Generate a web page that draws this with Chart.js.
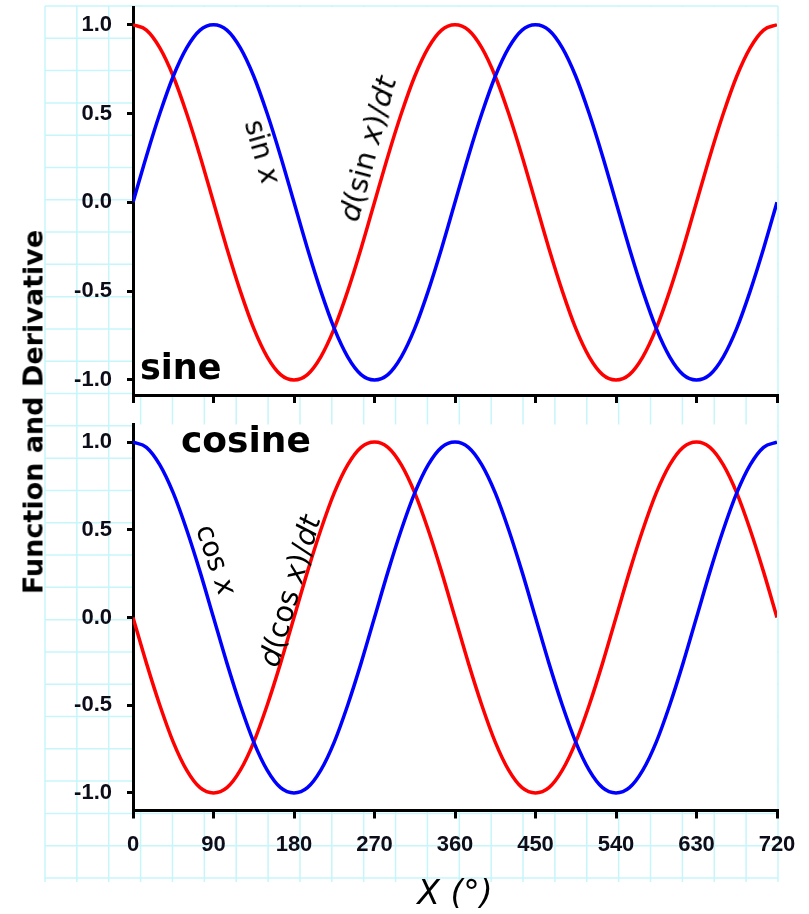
<!DOCTYPE html>
<html><head><meta charset="utf-8">
<script src="https://cdn.jsdelivr.net/npm/chart.js@4.4.0/dist/chart.umd.min.js"></script>
<style>
html,body{margin:0;padding:0;background:#fff;}
#wrap{position:relative;width:809px;height:914px;overflow:hidden;font-family:"DejaVu Sans";}
#paper{position:absolute;left:0;top:0;}
.box{position:absolute;left:0;}
.lbl{position:absolute;white-space:nowrap;line-height:1;color:#000;font-family:"DejaVu Sans";}
.rot{transform-origin:50% 50%;}
</style></head><body>
<div id="wrap">
<canvas id="paper" width="809" height="914"></canvas>
<div class="box" style="top:-30px;width:809px;height:460px"><canvas id="c1" width="809" height="460"></canvas></div>
<div class="box" style="top:390px;width:809px;height:524px"><canvas id="c2" width="809" height="524"></canvas></div>
<div class="lbl rot" style="left:33px;top:412px;font-size:27px;font-weight:bold;transform:translate(-50%,-50%) rotate(-90deg)">Function and Derivative</div>
<div class="lbl" style="left:140px;top:350px;font-size:35px;font-weight:bold">sine</div>
<div class="lbl" style="left:181px;top:422px;font-size:36px;font-weight:bold">cosine</div>
<div class="lbl rot" style="left:262px;top:152px;font-size:28px;transform:translate(-50%,-50%) rotate(74deg)">sin <i>x</i></div>
<div class="lbl rot" style="left:368px;top:149px;font-size:29px;transform:translate(-50%,-50%) rotate(-75deg)"><i>d</i>(sin <i>x</i>)/<i>dt</i></div>
<div class="lbl rot" style="left:216px;top:560px;font-size:28px;transform:translate(-50%,-50%) rotate(71deg)">cos <i>x</i></div>
<div class="lbl rot" style="left:290px;top:591px;font-size:29px;transform:translate(-50%,-50%) rotate(-74deg)"><i>d</i>(cos <i>x</i>)/<i>dt</i></div>
</div>
<script>
// ---- data ----
const degrees = [0,15,30,45,60,75,90,105,120,135,150,165,180,195,210,225,240,255,270,285,300,315,330,345,360,375,390,405,420,435,450,465,480,495,510,525,540,555,570,585,600,615,630,645,660,675,690,705,720];
const sinValues  = [0,0.26,0.5,0.71,0.87,0.97,1,0.97,0.87,0.71,0.5,0.26,0,-0.26,-0.5,-0.71,-0.87,-0.97,-1,-0.97,-0.87,-0.71,-0.5,-0.26,0,0.26,0.5,0.71,0.87,0.97,1,0.97,0.87,0.71,0.5,0.26,0,-0.26,-0.5,-0.71,-0.87,-0.97,-1,-0.97,-0.87,-0.71,-0.5,-0.26,0];
const dSinValues = [1,0.97,0.87,0.71,0.5,0.26,0,-0.26,-0.5,-0.71,-0.87,-0.97,-1,-0.97,-0.87,-0.71,-0.5,-0.26,0,0.26,0.5,0.71,0.87,0.97,1,0.97,0.87,0.71,0.5,0.26,0,-0.26,-0.5,-0.71,-0.87,-0.97,-1,-0.97,-0.87,-0.71,-0.5,-0.26,0,0.26,0.5,0.71,0.87,0.97,1];
const cosValues  = [1,0.97,0.87,0.71,0.5,0.26,0,-0.26,-0.5,-0.71,-0.87,-0.97,-1,-0.97,-0.87,-0.71,-0.5,-0.26,0,0.26,0.5,0.71,0.87,0.97,1,0.97,0.87,0.71,0.5,0.26,0,-0.26,-0.5,-0.71,-0.87,-0.97,-1,-0.97,-0.87,-0.71,-0.5,-0.26,0,0.26,0.5,0.71,0.87,0.97,1];
const dCosValues = [0,-0.26,-0.5,-0.71,-0.87,-0.97,-1,-0.97,-0.87,-0.71,-0.5,-0.26,0,0.26,0.5,0.71,0.87,0.97,1,0.97,0.87,0.71,0.5,0.26,0,-0.26,-0.5,-0.71,-0.87,-0.97,-1,-0.97,-0.87,-0.71,-0.5,-0.26,0,0.26,0.5,0.71,0.87,0.97,1,0.97,0.87,0.71,0.5,0.26,0];
const xTickValues = [0,90,180,270,360,450,540,630,720];
const yTickValues = [-1,-0.5,0,0.5,1];

// ---- graph paper background ----
(function(){
  const pc = document.getElementById('paper').getContext('2d');
  pc.strokeStyle = '#c6f6fa'; pc.lineWidth = 1.5;
  const x0=45, x1=778, y0=6, y1=878;
  for (let i=0;i<=23;i++){ const x = x0 + i*(x1-x0)/23; pc.beginPath(); pc.moveTo(x,y0); pc.lineTo(x,y1+4); pc.stroke(); }
  for (let j=0;j<=27;j++){ const y = y0 + j*(y1-y0)/27; pc.beginPath(); pc.moveTo(x0,y); pc.lineTo(x1,y); pc.stroke(); }
})();

const whiteArea = {id:'whiteArea', beforeDraw(c){const {ctx,chartArea:a}=c; ctx.save(); ctx.fillStyle='#fff'; ctx.fillRect(a.left,a.top,a.right-a.left,a.bottom-a.top); ctx.restore();}};
const pts = (ys)=>degrees.map((d,i)=>({x:d,y:ys[i]}));
const tickFont = {family:'Liberation Sans', weight:'bold', size:22};

function ds(label, ys, color){
  return {label, data:pts(ys), borderColor:color, backgroundColor:color, borderWidth:3.5, pointRadius:0, cubicInterpolationMode:'monotone', fill:false};
}
function yScale(lo){
  return {type:'linear', min:lo, max:1.1,
    afterBuildTicks:s=>{s.ticks=yTickValues.map(v=>({value:v}));},
    afterFit:s=>{s.width=133;},
    ticks:{callback:v=>Number(v).toFixed(1), font:tickFont, color:'#0d0d1a', padding:15},
    grid:{drawOnChartArea:false, drawTicks:true, tickLength:6, color:'#000', lineWidth:3},
    border:{display:true, color:'#000', width:3}};
}
function xScale(showLabels, h){
  const s = {type:'linear', min:0, max:720,
    afterBuildTicks:s=>{s.ticks=xTickValues.map(v=>({value:v}));},
    afterFit:s=>{s.height=h;},
    ticks:{display:showLabels, font:tickFont, color:'#0d0d1a', padding:13, maxRotation:0, autoSkip:false},
    grid:{drawOnChartArea:false, drawTicks:true, tickLength:8, color:'#000', lineWidth:3},
    border:{display:true, color:'#000', width:3}};
  if (showLabels) s.title = {display:true, text:'X (°)', font:{family:'DejaVu Sans', style:'italic', size:33}, color:'#000', padding:{top:0,bottom:-1}};
  return s;
}
const common = {responsive:false, animation:false, plugins:{legend:{display:false}, tooltip:{enabled:false}}};

new Chart(document.getElementById('c1'), {
  type:'line',
  data:{datasets:[ds('sin x', sinValues, '#0000ff'), ds('d(sin x)/dt', dSinValues, '#ff0000')]},
  options:Object.assign({}, common, {layout:{padding:{left:0,right:32,top:37,bottom:0}}, scales:{x:xScale(false, 35), y:yScale(-1.085)}}),
  plugins:[whiteArea]
});
new Chart(document.getElementById('c2'), {
  type:'line',
  data:{datasets:[ds('cos x', cosValues, '#0000ff'), ds('d(cos x)/dt', dCosValues, '#ff0000')]},
  options:Object.assign({}, common, {layout:{padding:{left:0,right:32,top:34.5,bottom:0}}, scales:{x:xScale(true, 103.5), y:yScale(-1.1)}}),
  plugins:[whiteArea]
});
</script>
</body></html>
